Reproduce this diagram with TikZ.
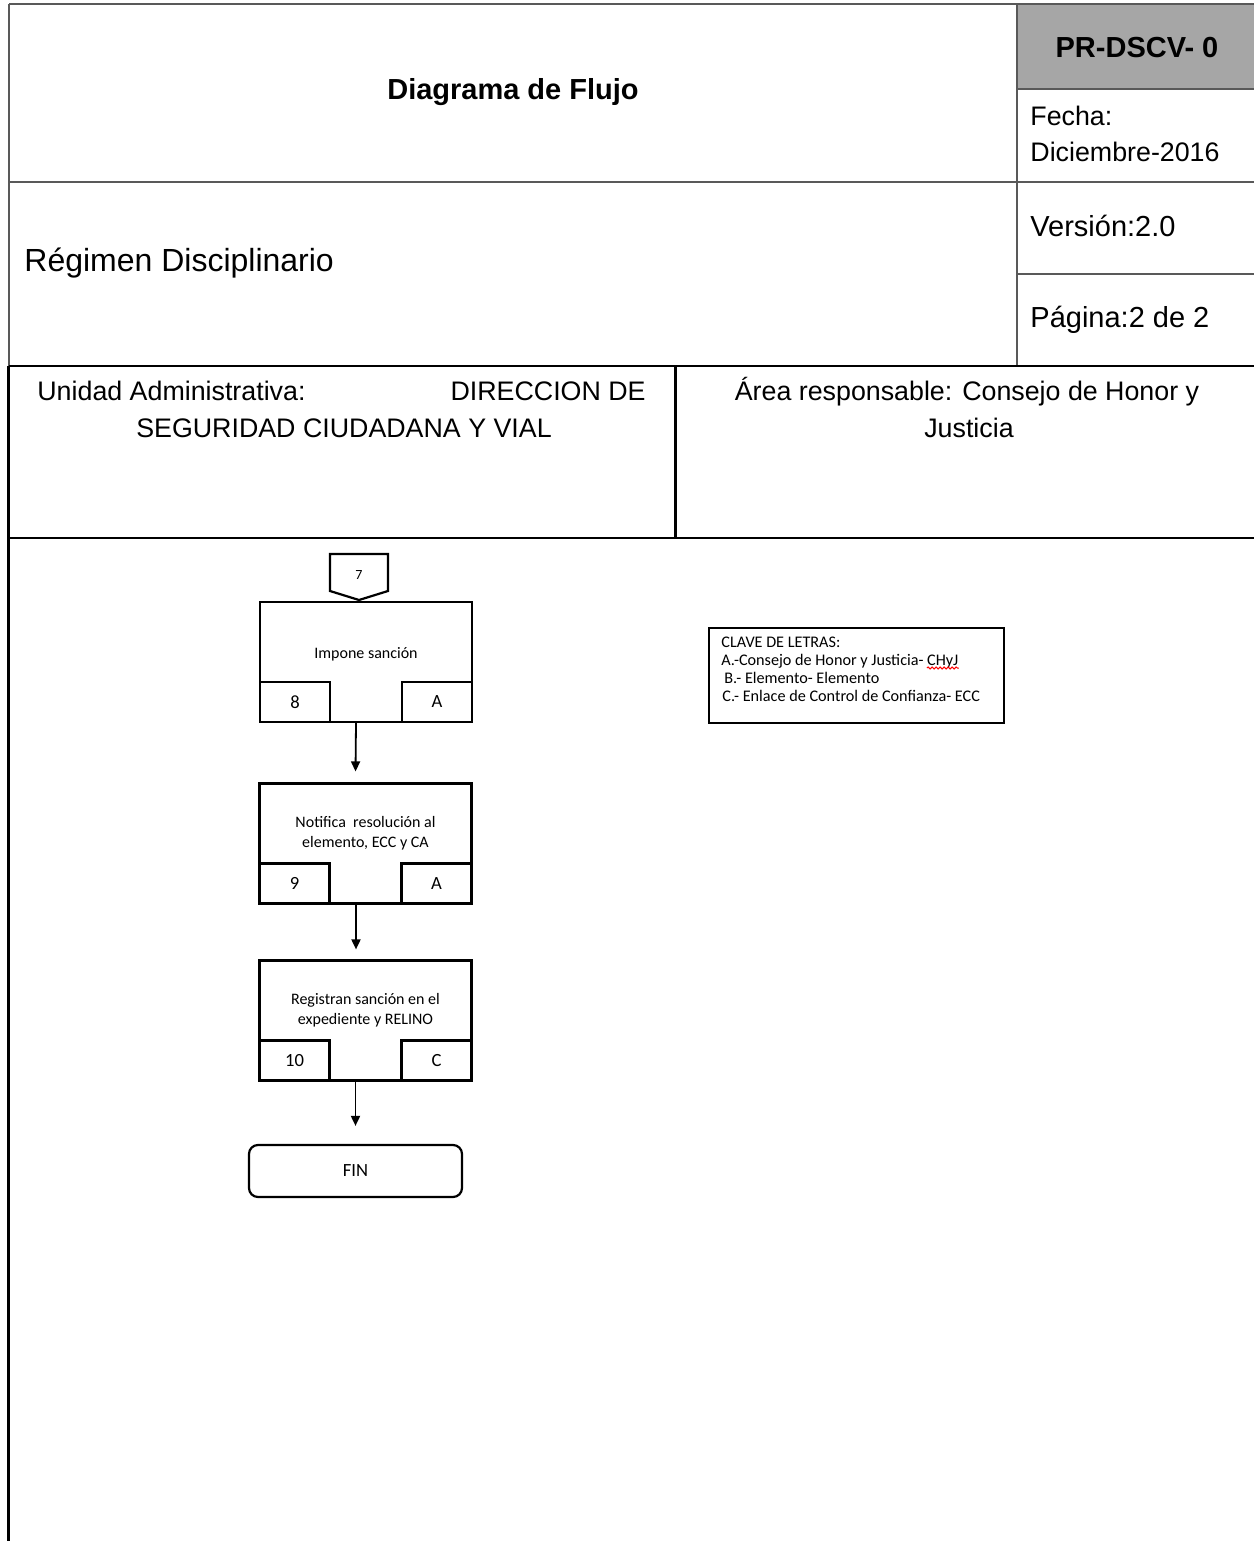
\documentclass[tikz,border=0pt]{standalone}
\usepackage{fontspec}
\setmainfont{Liberation Sans}
\newfontfamily\calib{Carlito}
\usetikzlibrary{arrows.meta,decorations.pathmorphing}
\definecolor{hdrline}{HTML}{595959}
\definecolor{hdrfill}{HTML}{A6A6A6}
\begin{document}
\begin{tikzpicture}[x=0.5pt,y=-0.5pt,
  hline/.style={draw=hdrline,line width=1pt},
  bline/.style={draw=black,line width=1.25pt},
  txt/.style={inner sep=0pt,anchor=base west},
  ctxt/.style={inner sep=0pt,anchor=base},
  fnorm/.style={font=\fontsize{13.4}{16}\selectfont},
  fbig/.style={font=\fontsize{14.5}{17}\selectfont},
  fl/.style={draw=black,line width=1.1pt},
  procbox/.style={fl,minimum width=106pt,minimum height=60pt,inner sep=0pt},
  subbox/.style={fl,minimum width=35pt,minimum height=20pt,inner sep=0pt,font=\calib\fontsize{9.3}{11}\selectfont},
  ptext/.style={align=center,font=\calib\fontsize{8}{10}\selectfont,inner sep=0pt},
  legtxt/.style={inner sep=0pt,anchor=base west,font=\calib\fontsize{8.1}{9}\selectfont},
  arr/.style={line width=0.9pt,-{Triangle[length=5pt,width=4.5pt]}},
]
\useasboundingbox (0,0) rectangle (1254,1541);

% ---------- header ----------
\fill[hdrfill] (1017,4) rectangle (1254,89);
\draw[hline] (9,4) -- (1254,4);
\draw[hline] (9,4) -- (9,366);
\draw[hline] (1017,4) -- (1017,366);
\draw[hline] (1017,89) -- (1254,89);
\draw[hline] (9,182) -- (1254,182);
\draw[hline] (1017,274) -- (1254,274);

\node[ctxt,font=\bfseries\fontsize{14.5}{17}\selectfont] (title) at (513,99) {Diagrama de Flujo};
\node[ctxt,font=\bfseries\fontsize{14.5}{17}\selectfont] (code) at (1137,58) {PR-DSCV- 0};
\node[txt,fnorm] (fecha) at (1030,126) {Fecha:};
\node[txt,fnorm] (fechav) at (1030,162) {Diciembre-2016};
\node[txt,fbig] (version) at (1030,236) {Versión:2.0};
\node[txt,fbig] (pagina) at (1030,327) {Página:2 de 2};
\node[txt,font=\fontsize{16}{19}\selectfont] (regimen) at (24,271) {Régimen Disciplinario};

% ---------- unit / area ----------
\draw[bline] (8.5,366) -- (1254,366);
\draw[bline] (8.5,366) -- (8.5,1541);
\draw[bline] (675.5,366) -- (675.5,538);
\draw[bline] (8.5,538) -- (1254,538);

\node[txt,fnorm] (ua) at (37,400) {Unidad Administrativa:};
\node[inner sep=0pt,anchor=base east,fnorm] (dir) at (646,400) {DIRECCION DE};
\node[ctxt,fnorm] (seg) at (344,437) {SEGURIDAD CIUDADANA Y VIAL};
\node[ctxt,fnorm] (area) at (967,400) {Área responsable: Consejo de Honor y};
\node[ctxt,fnorm] (just) at (969,437) {Justicia};

% ---------- flowchart ----------
\draw[fl,line join=miter] (330,554) -- (388,554) -- (388,591) -- (359,600) -- (330,591) -- cycle;
\node[inner sep=0pt,font=\calib\fontsize{7}{8}\selectfont] (c7) at (359,575) {7};

\node[procbox] (b1) at (366,662) {};
\node[subbox,anchor=south west] (b1n) at (b1.south west) {8};
\node[subbox,anchor=south east] (b1r) at (b1.south east) {A};
\node[ptext] (b1t) at ([yshift=4pt]b1.center) {Impone sanción};

\node[procbox] (b2) at (365.5,843.5) {};
\node[subbox,anchor=south west] (b2n) at (b2.south west) {9};
\node[subbox,anchor=south east] (b2r) at (b2.south east) {A};
\node[ptext] (b2t) at ([yshift=5pt]b2.center) {Notifica\ \ resolución al\\elemento, ECC y CA};

\node[procbox] (b3) at (365.5,1020.5) {};
\node[subbox,anchor=south west] (b3n) at (b3.south west) {10};
\node[subbox,anchor=south east] (b3r) at (b3.south east) {C};
\node[ptext] (b3t) at ([yshift=5pt]b3.center) {Registran sanción en el\\expediente y RELINO};

\node[fl,rounded corners=4.5pt,minimum width=106.5pt,minimum height=26pt,inner sep=0pt,font=\calib\fontsize{9.3}{11}\selectfont] (fin) at (355.5,1171) {FIN};

\draw[arr] ([xshift=-5pt]b1.south) -- ([xshift=-5pt,yshift=5.5pt]b2.north);
\draw[arr] ([xshift=-4.75pt]b2.south) -- ([xshift=-4.75pt,yshift=5pt]b3.north);
\draw[arr] ([xshift=-5pt]b3.south) -- ([yshift=9pt]fin.north);

% ---------- legend ----------
\node[draw=black,line width=0.8pt,minimum width=147.5pt,minimum height=47.5pt,anchor=north west,inner sep=0pt] (leg) at (708,627) {};
\node[legtxt] (l1) at (721,647) {CLAVE DE LETRAS:};
\node[legtxt] (l2) at (721,665) {A.-Consejo de Honor y Justicia- CHyJ};
\node[legtxt] (l3) at (724,683) {B.- Elemento- Elemento};
\node[legtxt] (l4) at (722,701) {C.- Enlace de Control de Confianza- ECC};
\draw[red,line width=0.5pt,decorate,decoration={snake,amplitude=0.5pt,segment length=2pt}]
  ([xshift=-16pt,yshift=-1.5pt]l2.base east) -- ([yshift=-1.5pt]l2.base east);
\end{tikzpicture}
\end{document}
